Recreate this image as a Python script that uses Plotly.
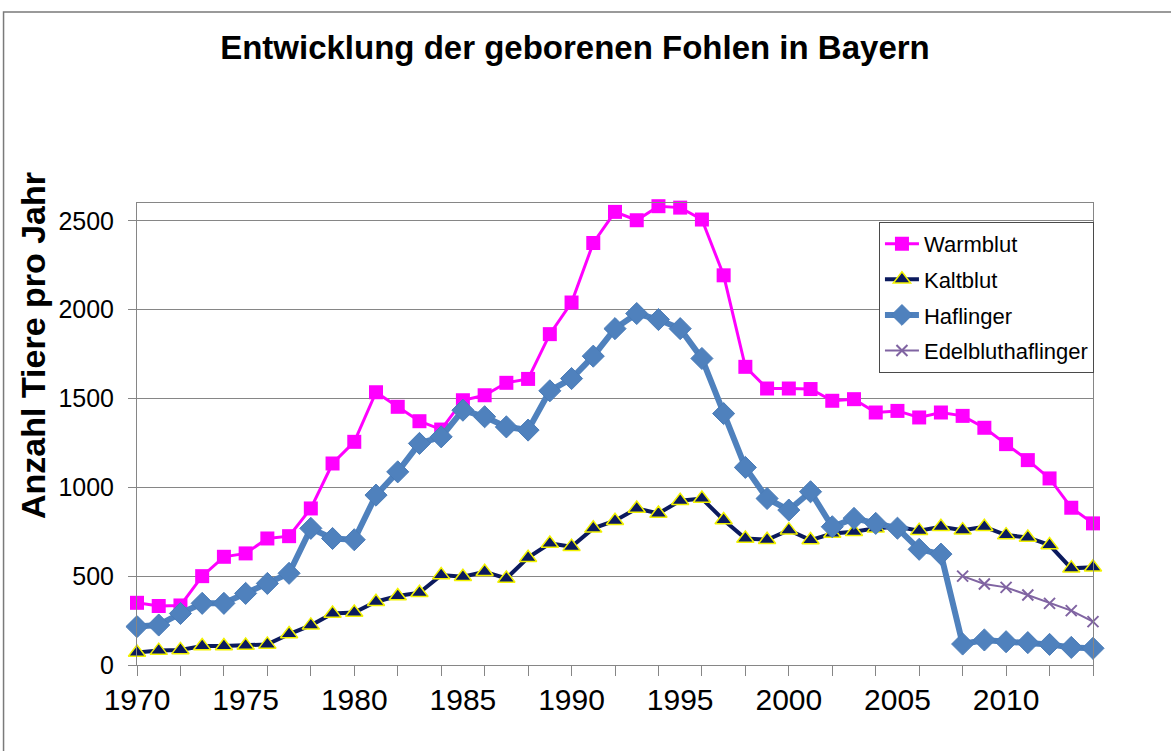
import plotly.graph_objects as go

years = list(range(1970, 2015))
warmblut = [350, 332, 335, 500, 609, 628, 712, 725, 881, 1134,
            1256, 1535, 1453, 1372, 1325, 1490, 1518, 1588, 1610, 1862,
            2040, 2375, 2550, 2503, 2582, 2574, 2507, 2193, 1678, 1556,
            1556, 1553, 1487, 1496, 1421, 1430, 1393, 1421, 1402, 1335,
            1243, 1153, 1050, 885, 797]
kaltblut = [70, 81, 85, 107, 107, 110, 116, 174, 223, 290,
            295, 356, 388, 407, 506, 497, 525, 487, 604, 684,
            666, 769, 812, 881, 853, 924, 937, 816, 712, 705,
            759, 703, 740, 750, 769, 778, 756, 778, 759, 778,
            731, 718, 675, 544, 550]
haflinger = [216, 225, 290, 347, 347, 403, 459, 516, 769, 712,
             705, 956, 1087, 1247, 1284, 1434, 1397, 1340, 1322, 1543,
             1612, 1738, 1893, 1978, 1944, 1893, 1725, 1415, 1112, 937,
             872, 975, 778, 825, 797, 770, 651, 624, 118, 141,
             131, 126, 116, 99, 94]
edel_years = [2008, 2009, 2010, 2011, 2012, 2013, 2014]
edelbluthaflinger = [500, 456, 437, 394, 347, 306, 244]

label_years = [1970, 1975, 1980, 1985, 1990, 1995, 2000, 2005, 2010]
tick_years = list(range(1970, 2015, 2))
y_ticks = [0, 500, 1000, 1500, 2000, 2500]

FONT = "Liberation Sans, Arial, sans-serif"
GRID = "#868686"

fig = go.Figure()
fig.add_trace(go.Scatter(x=years, y=warmblut, name="Warmblut", mode="lines+markers",
                         line=dict(color="#FF00FF", width=3),
                         marker=dict(symbol="square", size=14, color="#FF00FF"),
                         cliponaxis=False, legendgroup="a"))
fig.add_trace(go.Scatter(x=years, y=kaltblut, name="Kaltblut", mode="lines+markers",
                         line=dict(color="#0B1A5E", width=4),
                         marker=dict(symbol="triangle-up", size=15, color="#0B1A5E",
                                     line=dict(color="#F2F200", width=1.5)),
                         cliponaxis=False, legendgroup="b"))
fig.add_trace(go.Scatter(x=years, y=haflinger, name="Haflinger", mode="lines+markers",
                         line=dict(color="#4F81BD", width=6),
                         marker=dict(symbol="diamond", size=17, color="#4F81BD",
                                     line=dict(color="#4A7CB8", width=1)),
                         cliponaxis=False, legendgroup="c"))
fig.add_trace(go.Scatter(x=edel_years, y=edelbluthaflinger, name="Edelbluthaflinger",
                         mode="lines+markers",
                         line=dict(color="#8064A2", width=2),
                         marker=dict(symbol="x-thin", size=11, color="#8064A2",
                                     line=dict(color="#8064A2", width=2)),
                         cliponaxis=False, legendgroup="d"))

fig.update_layout(
    width=1171, height=751,
    margin=dict(l=137, r=78, t=203, b=86, autoexpand=False),
    paper_bgcolor="white", plot_bgcolor="white",
    font=dict(family=FONT, color="black"),
    title=dict(text="<b>Entwicklung der geborenen Fohlen in Bayern</b>",
               font=dict(size=33, family=FONT, color="black"),
               x=0.491, xanchor="center", xref="container",
               y=0.952, yanchor="top", yref="container"),
    legend=dict(x=1.001, xanchor="right", y=0.959, yanchor="top",
                bgcolor="white", bordercolor="#4a4a4a", borderwidth=1,
                font=dict(size=22, family=FONT, color="black"),
                tracegroupgap=4, itemwidth=34),
    showlegend=True,
)

fig.update_xaxes(range=[1970, 2014], tickvals=label_years, ticktext=[str(v) for v in label_years],
                 ticks="outside", ticklen=8, tickcolor="rgba(0,0,0,0)",
                 tickfont=dict(size=30, family=FONT, color="black"),
                 showgrid=False, showline=True, linecolor=GRID, linewidth=1, mirror=True,
                 zeroline=False, automargin=False,
                 minor=dict(tickvals=tick_years, ticks="outside", ticklen=10,
                            tickcolor=GRID, showgrid=False))
fig.update_yaxes(range=[0, 2600], tickvals=y_ticks,
                 ticks="outside", ticklen=8, tickcolor=GRID,
                 ticklabelstandoff=9,
                 tickfont=dict(size=25, family=FONT, color="black"),
                 showgrid=True, gridcolor=GRID, gridwidth=1,
                 showline=True, linecolor=GRID, linewidth=1, mirror=True,
                 zeroline=False, automargin=False)

# y axis title placed like in the original (not centred on the plot area)
fig.add_annotation(text="<b>Anzahl Tiere pro Jahr</b>", textangle=-90,
                   xref="paper", yref="paper", x=-0.1088, y=0.6926,
                   xanchor="center", yanchor="middle", showarrow=False,
                   font=dict(size=34, family=FONT, color="black"))

# outer chart frame (only top and left edges visible in the picture)
fig.add_shape(type="rect", xref="paper", yref="paper",
              x0=-0.1396, x1=1.2, y0=-0.3, y1=1.4134,
              line=dict(color="#7a7a7a", width=1.5), layer="below")

fig.write_html("out.html", config={"displayModeBar": False},
               post_script="document.body.style.margin='0';")
